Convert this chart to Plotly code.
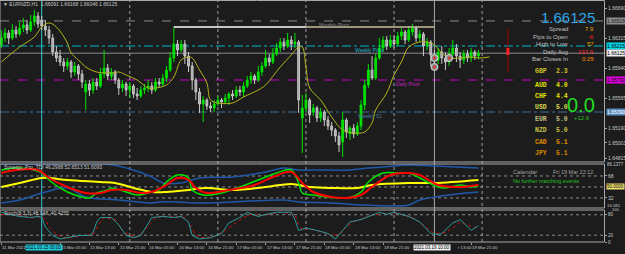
import plotly.graph_objects as go

# ---------------- data (bar index = hours since 15 Mar 2021 00:00) ----------------
bars = list(range(-11, 120))
open_ = [
1.66228,1.66315,1.66378,1.66315,1.66415,1.66365,1.66440,1.66478,1.66415,1.66515,1.66590,
1.66540,1.66465,1.66415,1.66315,1.66140,1.66090,1.66015,1.65965,1.66015,1.65890,
1.65965,1.65865,1.65640,1.65740,1.65665,1.65765,1.65715,1.65865,1.65940,1.65840,
1.65890,1.65790,1.65690,1.65740,1.65665,1.65715,1.65615,1.65590,1.65665,1.65690,
1.65715,1.65665,1.65765,1.65740,1.65815,1.65915,1.66065,1.66240,1.66165,1.66240,
1.66090,1.65965,1.65790,1.65640,1.65490,1.65540,1.65465,1.65440,1.65490,1.65540,
1.65515,1.65565,1.65615,1.65590,1.65665,1.65640,1.65715,1.65790,1.65840,1.65790,
1.65890,1.65965,1.66065,1.66015,1.66115,1.66190,1.66265,1.66215,1.66290,1.66240,
1.66265,1.65315,1.65440,1.65540,1.65390,1.65440,1.65315,1.65390,1.65290,1.65215,
1.65165,1.65090,1.65015,1.65290,1.65115,1.65190,1.65115,1.65215,1.65478,1.65728,
1.65915,1.65815,1.66065,1.66190,1.66290,1.66215,1.66290,1.66240,1.66340,1.66390,
1.66290,1.66390,1.66440,1.66315,1.66365,1.66215,1.66265,1.66103,1.66040,1.66140,
1.66065,1.66015,1.66115,1.66190,1.66090,1.66040,1.66115,1.66065,1.66140,1.66091]
high_ = [
1.66415,1.66440,1.66415,1.66490,1.66465,1.66515,1.66565,1.66540,1.66603,1.66665,1.66640,
1.66590,1.66540,1.66465,1.66365,1.66215,1.66165,1.66065,1.66065,1.66040,1.66015,
1.65990,1.65915,1.65790,1.65790,1.65815,1.65815,1.65940,1.66165,1.65990,1.65940,
1.65915,1.65815,1.65790,1.65765,1.65765,1.65740,1.65690,1.65715,1.65740,1.65790,
1.65765,1.65815,1.65815,1.65865,1.65965,1.66140,1.66453,1.66290,1.66290,1.66290,
1.66140,1.66015,1.65815,1.65690,1.65590,1.65565,1.65515,1.65540,1.65590,1.65565,
1.65615,1.65640,1.65665,1.65715,1.65715,1.65765,1.65840,1.65890,1.65865,1.65965,
1.66015,1.66165,1.66115,1.66190,1.66253,1.66315,1.66315,1.66378,1.66340,1.66378,
1.66290,1.65603,1.65628,1.65565,1.65490,1.65465,1.65440,1.65415,1.65340,1.65265,
1.65190,1.65140,1.65390,1.65315,1.65215,1.65240,1.65265,1.65540,1.65790,1.65990,
1.66090,1.66115,1.66315,1.66340,1.66340,1.66353,1.66340,1.66390,1.66440,1.66415,
1.66465,1.66490,1.66465,1.66415,1.66390,1.66315,1.66290,1.66165,1.66190,1.66215,
1.66140,1.66190,1.66290,1.66240,1.66140,1.66165,1.66165,1.66190,1.66165,1.66168]
low_ = [
1.66190,1.66265,1.66240,1.66290,1.66315,1.66340,1.66390,1.66365,1.66390,1.66465,1.66440,
1.66415,1.66340,1.66240,1.66090,1.66015,1.65965,1.65890,1.65915,1.65815,1.65840,
1.65790,1.65690,1.65415,1.65590,1.65615,1.65665,1.65690,1.65815,1.65790,1.65790,
1.65740,1.65603,1.65640,1.65590,1.65565,1.65565,1.65540,1.65565,1.65615,1.65640,
1.65615,1.65640,1.65690,1.65715,1.65765,1.65890,1.66015,1.66090,1.66140,1.65990,
1.65890,1.65665,1.65540,1.65378,1.65265,1.65415,1.65390,1.65390,1.65465,1.65440,
1.65490,1.65478,1.65540,1.65565,1.65590,1.65578,1.65690,1.65740,1.65740,1.65765,
1.65840,1.65940,1.65965,1.65990,1.66090,1.66140,1.66165,1.66190,1.66165,1.66190,
1.65378,1.64878,1.65390,1.65253,1.65340,1.65265,1.65265,1.65215,1.65165,1.65090,
1.65015,1.64890,1.64828,1.65065,1.65040,1.65065,1.65090,1.65165,1.65415,1.65690,
1.65790,1.65790,1.66040,1.66140,1.66165,1.66190,1.66190,1.66215,1.66290,1.66240,
1.66265,1.66340,1.66265,1.66265,1.66090,1.66165,1.65965,1.65915,1.65990,1.65990,
1.65915,1.65965,1.66090,1.66015,1.65940,1.65990,1.66015,1.66015,1.66040,1.66046]
close_ = [
1.66315,1.66378,1.66315,1.66415,1.66365,1.66440,1.66478,1.66415,1.66515,1.66590,1.66490,
1.66465,1.66415,1.66315,1.66140,1.66065,1.66015,1.65965,1.66015,1.65890,1.65965,
1.65865,1.65765,1.65740,1.65665,1.65765,1.65715,1.65865,1.65940,1.65840,1.65890,
1.65790,1.65690,1.65740,1.65665,1.65715,1.65615,1.65590,1.65665,1.65690,1.65715,
1.65665,1.65765,1.65740,1.65815,1.65915,1.66065,1.66240,1.66165,1.66240,1.66090,
1.65965,1.65790,1.65640,1.65490,1.65540,1.65465,1.65440,1.65490,1.65540,1.65515,
1.65565,1.65615,1.65590,1.65665,1.65640,1.65715,1.65790,1.65840,1.65790,1.65890,
1.65965,1.66065,1.66015,1.66115,1.66190,1.66265,1.66215,1.66290,1.66240,1.66265,
1.65540,1.65440,1.65540,1.65353,1.65440,1.65315,1.65390,1.65290,1.65215,1.65165,
1.65090,1.64978,1.65290,1.65140,1.65190,1.65115,1.65215,1.65478,1.65728,1.65915,
1.65815,1.66065,1.66190,1.66290,1.66215,1.66290,1.66240,1.66340,1.66390,1.66290,
1.66415,1.66440,1.66315,1.66365,1.66215,1.66265,1.66103,1.66040,1.66140,1.66065,
1.66015,1.66115,1.66190,1.66090,1.66040,1.66115,1.66065,1.66140,1.66090,1.66125]

ma_bar = [-11,-6,-2,0,2,4,7,8,10,12,15,19,21,23,26,29,31,34,36,38,40,41,43,45,46,48,52,55,59,61,
          65,68,70,71,72,73,76,79,82,85,88,90,91,94,96,98,100,103,105,107,109,111,114,117,119,122]
ma_val = [1.66015,1.66203,1.66328,1.66453,1.66503,1.66453,1.66253,1.66128,1.66040,1.65953,
          1.65890,1.65878,1.65890,1.65853,1.65790,1.65690,1.65690,1.65728,1.65828,1.66040,
          1.66078,1.66065,1.65915,1.65753,1.65540,1.65503,1.65503,1.65578,1.65665,1.65728,
          1.65953,1.66103,1.66203,1.66203,1.65953,1.65690,1.65540,1.65328,1.65165,1.65128,
          1.65140,1.65253,1.65415,1.65628,1.65853,1.66015,1.66203,1.66265,1.66265,1.66228,
          1.66128,1.66065,1.66065,1.66078,1.66065,1.66078]

monthly_pivot = 1.66528
prev_high = 1.66453
weekly_pivot = 1.66215
bid_price = 1.66125
daily_pivot = 1.65790
weekly_s1 = 1.65390
prev_high_white = [36, 72]
prev_high_tan = [72, 107]
day_separators = [24, 48, 72, 96, 120]
week_start_bar = 0
cursor_bar = 107

trade_bars = [107, 107, 111]
trade_prices = [1.66065, 1.65953, 1.66065]
range_bar = 127
range_full = [1.66440, 1.65890]
range_today = [1.66190, 1.66103]

price_ticks = [1.66690, 1.66315, 1.65940, 1.65565, 1.65190, 1.65003, 1.64815]

syn_green_bar = [-11,-7,-2,0,3,7,11,13,15,18,19,23,26,29,32,34,37,40,41,44,46,49,54,59,64,68,70,71,74,78,83,87,89,93,97,100,103,108,110,114,117,119]
syn_green = [77.8,81.1,77.8,72.9,56.5,41.8,33.6,32.0,40.2,45.1,48.4,41.8,36.9,40.2,45.1,58.2,69.6,64.7,45.1,36.9,36.9,40.2,50.0,61.5,72.9,77.8,56.5,40.2,36.9,33.6,32.0,41.8,58.2,72.9,72.9,72.9,64.7,50.0,48.4,53.3,50.0,51.6]
syn_red_bar = [-11,-7,-1,2,7,12,16,19,23,27,30,34,37,40,42,45,51,58,63,68,71,74,79,83,87,90,95,100,103,108,114,119]
syn_red = [72.9,77.8,77.8,64.7,50.0,40.2,40.2,45.1,45.1,40.2,41.8,53.3,64.7,61.5,48.4,40.2,45.1,53.3,66.4,74.5,56.5,41.8,33.6,32.0,36.9,50.0,69.6,72.9,69.6,53.3,50.0,53.3]
syn_yellow_bar = [-11,-6,0,2,7,16,20,25,30,34,40,45,52,61,68,73,79,86,90,100,107,119]
syn_yellow = [50.0,56.5,64.7,64.7,61.5,58.2,56.5,48.4,41.8,41.8,45.1,48.4,45.1,50.0,54.9,50.0,48.4,48.4,53.3,56.5,56.5,61.5]
syn_upper_bar = [-11,0,18,25,30,33,38,43,52,61,66,70,75,84,89,93,100,107,119]
syn_upper = [87.0,87.0,87.0,77.8,66.4,56.5,56.5,64.7,66.4,74.5,81.1,77.8,77.8,77.8,81.1,82.7,86.0,84.4,81.1]
syn_lower_bar = [-11,-6,1,7,12,21,30,32,37,43,52,66,70,79,88,100,103,111,119]
syn_lower = [23.8,28.7,41.8,48.4,33.6,28.7,23.8,25.5,25.5,23.8,25.5,28.7,25.5,23.8,20.5,20.5,28.7,36.9,41.8]
syn_levels = [68, 50, 32]

sto_main_bar = [-11,-9,-6,-3,-1,0,1,3,5,7,10,13,14,15,16,19,21,23,25,27,29,30,33,36,38,40,41,43,46,49,
                51,54,56,59,61,64,68,69,70,72,75,78,80,82,84,87,89,92,94,96,98,100,103,106,108,109,112,114,117,119]
sto_main = [87.5,81,75,72,75,72,44,19,9,12.5,19,19,28,59,72,72,50,19,12.5,19,56,72,75,72,75,59,19,9,12.5,25,
            56,72,87.5,75,81,87.5,87.5,66,34,41,34,25,9,34,59,66,75,87.5,81,87.5,81,75,59,25,22,25,56,66,34,48.1]
sto_sig_bar = [-11,-8,-5,-2,0,1,2,4,6,8,11,14,15,16,17,20,22,24,26,28,30,31,34,37,39,41,42,44,47,50,
               52,55,57,60,62,65,69,70,71,73,76,79,81,83,85,88,90,93,95,97,99,101,104,107,110,112,114,116,119]
sto_sig = [81,81,75,72,75,66,44,22,12.5,12.5,19,22,41,59,72,66,34,19,16,34,59,72,75,72,72,41,19,12.5,16,34,
           50,72,81,78,81,87.5,81,50,38,38,31,19,22,44,59,72,78,84,84,84,78,72,50,25,28,41,59,50,40.4]
sto_levels = [80, 20]

time_tick_bars = [-11, 5, 13, 21, 29, 37, 45, 53, 61, 69, 77, 85, 93, 117]
time_tick_labels = ["11 Mar 2021", "15 Mar 05:00", "15 Mar 13:00", "15 Mar 21:00", "16 Mar 05:00",
                    "16 Mar 13:00", "16 Mar 21:00", "17 Mar 05:00", "17 Mar 13:00", "17 Mar 21:00",
                    "18 Mar 05:00", "18 Mar 13:00", "18 Mar 21:00", "19 Mar 21:00"]
partial_tick_bar = 113.2
partial_tick_label = "r 13:00"

currencies = ["GBP", "AUD", "CHF", "USD", "EUR", "NZD", "CAD", "JPY"]
strengths = ["2.3", "4.0", "4.4", "5.0", "5.0", "5.0", "5.1", "5.1"]
curr_colors = ["#c8c020", "#e0e000", "#e0e000", "#d8d850", "#c0c080", "#c8c040", "#e08c00", "#d88800"]

info_labels = ["Spread", "Pips to Open", "High to Low", "Daily Avg", "Bar Closes In"]
info_values = ["7.9", "-6", "57", "132.9", "0:29"]
info_colors = ["#e8a800", "#ff2020", "#e0a000", "#ff3030", "#ff8c00"]

# ---------------- layout helpers ----------------
PW, PH = 604, 244
def fx(p): return p / PW
def fy(p): return (PH - p) / PH

BG = "#1c1c1c"
SANS = "Liberation Sans"
MONO = "Liberation Mono"
TXT = "#c8c8c8"

fig = go.Figure()

fig.add_trace(go.Candlestick(
    x=bars, open=open_, high=high_, low=low_, close=close_,
    increasing=dict(line=dict(color="#00e000", width=1), fillcolor="#00e000"),
    decreasing=dict(line=dict(color="#c8c8c8", width=1), fillcolor="#a0a0a0"),
    whiskerwidth=0, xaxis="x", yaxis="y", hoverinfo="skip"))
fig.add_trace(go.Scatter(x=ma_bar, y=ma_val, mode="lines",
    line=dict(color="#b4b41c", width=1, shape="spline"), xaxis="x", yaxis="y"))

fig.add_trace(go.Scatter(x=prev_high_white, y=[prev_high, prev_high], mode="lines",
    line=dict(color="#ffffff", width=1.5), xaxis="x", yaxis="y"))
fig.add_trace(go.Scatter(x=prev_high_tan, y=[prev_high, prev_high], mode="lines",
    line=dict(color="#c8bc9c", width=1.5), xaxis="x", yaxis="y"))

fig.add_trace(go.Scatter(x=[range_bar, range_bar], y=range_full, mode="lines",
    line=dict(color="#a00000", width=1), xaxis="x", yaxis="y"))
fig.add_trace(go.Scatter(x=[range_bar, range_bar], y=range_today, mode="lines",
    line=dict(color="#ff2020", width=3), xaxis="x", yaxis="y"))

fig.add_trace(go.Scatter(x=trade_bars, y=trade_prices, mode="markers",
    marker=dict(symbol="circle", size=7, color="#8c8c8c", line=dict(color="#d8d8d8", width=1)),
    xaxis="x", yaxis="y"))
fig.add_trace(go.Scatter(x=trade_bars, y=trade_prices, mode="markers",
    marker=dict(symbol="circle", size=3, color="#e03030"), xaxis="x", yaxis="y"))

fig.add_trace(go.Scatter(x=syn_upper_bar, y=syn_upper, mode="lines",
    line=dict(color="#1f58a8", width=1.5, shape="spline"), xaxis="x2", yaxis="y2"))
fig.add_trace(go.Scatter(x=syn_lower_bar, y=syn_lower, mode="lines",
    line=dict(color="#1f58a8", width=1.5, shape="spline"), xaxis="x2", yaxis="y2"))
fig.add_trace(go.Scatter(x=syn_yellow_bar, y=syn_yellow, mode="lines",
    line=dict(color="#ffff00", width=2, shape="spline"), xaxis="x2", yaxis="y2"))
fig.add_trace(go.Scatter(x=syn_green_bar, y=syn_green, mode="lines",
    line=dict(color="#00e000", width=1.5, shape="spline"), xaxis="x2", yaxis="y2"))
fig.add_trace(go.Scatter(x=syn_red_bar, y=syn_red, mode="lines",
    line=dict(color="#ff0000", width=2, shape="spline"), xaxis="x2", yaxis="y2"))

fig.add_trace(go.Scatter(x=sto_sig_bar, y=sto_sig, mode="lines",
    line=dict(color="#d01010", width=1, dash="dot"), xaxis="x3", yaxis="y3"))
fig.add_trace(go.Scatter(x=sto_main_bar, y=sto_main, mode="lines",
    line=dict(color="#2a9a9a", width=1), xaxis="x3", yaxis="y3"))

shapes = []
for lvl, col, dash in [(monthly_pivot, "#8c8c8c", "dash"), (weekly_pivot, "#00b4c8", "dashdot"),
                       (bid_price, "#8a8a9a", "solid"), (daily_pivot, "#c800c8", "dash"),
                       (weekly_s1, "#3c6e96", "dashdot")]:
    shapes.append(dict(type="line", xref="paper", yref="y", x0=0, x1=1, y0=lvl, y1=lvl,
                       line=dict(color=col, width=1, dash=dash), layer="below"))
for lvl in syn_levels:
    shapes.append(dict(type="line", xref="paper", yref="y2", x0=0, x1=1, y0=lvl, y1=lvl,
                       line=dict(color="#8c8c8c", width=1, dash="dot"), layer="below"))
for lvl in sto_levels:
    shapes.append(dict(type="line", xref="paper", yref="y3", x0=0, x1=1, y0=lvl, y1=lvl,
                       line=dict(color="#8c8c8c", width=1, dash="dot"), layer="below"))
for b in day_separators:
    shapes.append(dict(type="line", xref="x", yref="paper", x0=b, x1=b, y0=fy(242), y1=1,
                       line=dict(color="#a0a0a0", width=1, dash="dot"), layer="below"))
shapes.append(dict(type="line", xref="x", yref="paper", x0=week_start_bar, x1=week_start_bar,
                   y0=fy(242), y1=1, line=dict(color="#30c8d8", width=1), layer="below"))
shapes.append(dict(type="line", xref="x", yref="paper", x0=cursor_bar, x1=cursor_bar,
                   y0=fy(242), y1=1, line=dict(color="#a8a8a8", width=1), layer="below"))
for top, bot in [(0.5, 162), (164, 208), (210, 242)]:
    shapes.append(dict(type="rect", xref="paper", yref="paper", x0=0, x1=fx(604.5),
                       y0=fy(bot), y1=fy(top), line=dict(color="#a8a8a8", width=1)))

ann = []
def txt(x, y, s, color=TXT, size=5, xa="left", ya="middle", family=SANS, bg=None,
        xref="paper", yref="paper"):
    d = dict(x=x, y=y, xref=xref, yref=yref, text=s, showarrow=False, xanchor=xa, yanchor=ya,
             font=dict(family=family, size=size, color=color), borderpad=0)
    if bg:
        d["bgcolor"] = bg
    ann.append(d)

txt(fx(2), fy(4.5), "▼ EURNZD,H1  1.66091 1.66168 1.66046 1.66125", size=5)
txt(fx(3), fy(167), "Synergy_Pro_TDI 46.2988 52.6513 51.6093", size=5)
txt(fx(3), fy(213), "Stoch(8,3,3) 48.148  40.4255", size=5)

txt(75.3, monthly_pivot, "Monthly Pivot", "#8c8c8c", 5, ya="top", xref="x", yref="y")
txt(85.1, weekly_pivot, "Weekly Pivot", "#20b8c8", 5, ya="top", xref="x", yref="y")
txt(96.3, daily_pivot, "Daily Pivot", "#c020c0", 5, ya="top", xref="x", yref="y")
txt(85.9, weekly_s1, "Weekly S1", "#4a7aa0", 5, ya="top", xref="x", yref="y")

txt(fx(596), fy(18), "1.66125", "#2aa8e8", 15, xa="right")
for i, (lab, val, col) in enumerate(zip(info_labels, info_values, info_colors)):
    yy = [29, 36.5, 44, 51.5, 59][i]
    txt(fx(569), fy(yy), lab, "#c0c0c0", 6, xa="right")
    txt(fx(595), fy(yy), val, col, 6, xa="right")
for i, (c, v, col) in enumerate(zip(currencies, strengths, curr_colors)):
    yy = [71, 85, 96, 107.5, 119, 130.5, 142, 153][i]
    txt(fx(534), fy(yy), "<b>%s</b>" % c, col, 6.5, family=MONO)
    txt(fx(555), fy(yy), "<b>%s</b>" % v, col, 6.5, family=MONO)
txt(fx(596), fy(104.5), "0.0", "#22dd22", 20, xa="right")
txt(fx(582), fy(118.5), "+12.6", "#30c030", 6, xa="center")
txt(fx(512), fy(172), "Calendar", "#a0a0a0", 6)
txt(fx(594), fy(172), "Fri 19 Mar 22:12", "#a0a0a0", 5.5, xa="right")
txt(fx(512), fy(180.5), "No further matching events", "#20c020", 5.5)

for lvl, bg, fc in [(monthly_pivot, "#8c8c8c", "#202020"), (weekly_pivot, "#00d8e8", "#000000"),
                    (bid_price, "#f0f0f0", "#000000"), (daily_pivot, "#e000e0", "#000000"),
                    (weekly_s1, "#5a8ec0", "#ffffff")]:
    txt(fx(605.5), lvl, "%.5f" % lvl, fc, 5, bg=bg, yref="y")
txt(fx(605.5), 86.1, "86.1377", TXT, 4.5, yref="y2")
txt(fx(605.5), 50, "50.0000", "#000000", 4.5, bg="#f0e070", yref="y2")
txt(fx(605.5), fy(205), "16.581", TXT, 4.3)
txt(fx(611), fy(209.5), "100", TXT, 4)

for b, lab in zip(time_tick_bars, time_tick_labels):
    txt(b, fy(243.5), lab, TXT, 4.3, ya="top", xref="x3")
txt(partial_tick_bar, fy(243.5), partial_tick_label, TXT, 4.3, ya="top", xref="x3")
txt(0.5, fy(243.5), "2021.03.15 00:00", "#000000", 4.5, xa="center", ya="top", bg="#22ccdd", xref="x3")
txt(106.3, fy(243.5), "2021.03.19 10:00", "#000000", 4.5, xa="center", ya="top", bg="#f0f0f0", xref="x3")

xr = [-11.36, 153.2]
axis_common = dict(showgrid=False, zeroline=False, range=xr)
fig.update_layout(
    width=625, height=254, margin=dict(l=0, r=21, t=0, b=10),
    paper_bgcolor=BG, plot_bgcolor=BG, showlegend=False,
    xaxis=dict(domain=[0, 1], anchor="y", showticklabels=False, rangeslider=dict(visible=False), **axis_common),
    xaxis2=dict(domain=[0, 1], anchor="y2", matches="x", showticklabels=False, **axis_common),
    xaxis3=dict(domain=[0, 1], anchor="y3", matches="x", showticklabels=False, tickvals=time_tick_bars,
                ticks="outside", ticklen=2, tickcolor="#a0a0a0", **axis_common),
    yaxis=dict(domain=[fy(162), fy(0.5)], range=[1.6679 - 162.5 * 0.000125 + 0.0000625, 1.6679 - 0.0000625],
               anchor="x", side="right", showgrid=False, zeroline=False,
               tickvals=price_ticks, ticktext=["%.5f" % t for t in price_ticks],
               tickfont=dict(family=SANS, size=5, color=TXT), ticks="outside", ticklen=2, tickcolor="#a0a0a0"),
    yaxis2=dict(domain=[fy(208), fy(164)], range=[15.6, 87.6], anchor="x2", side="right",
                showgrid=False, zeroline=False, tickvals=[68, 32], ticktext=["68", "32"],
                tickfont=dict(family=SANS, size=5, color=TXT), ticks="outside", ticklen=2, tickcolor="#a0a0a0"),
    yaxis3=dict(domain=[fy(242), fy(210)], range=[0, 94], anchor="x3", side="right",
                showgrid=False, zeroline=False, tickvals=[80, 20, 0], ticktext=["80", "20", "0"],
                tickfont=dict(family=SANS, size=4.5, color=TXT), ticks="outside", ticklen=2, tickcolor="#a0a0a0"),
    shapes=shapes, annotations=ann,
)

fig.write_html("out.html")
